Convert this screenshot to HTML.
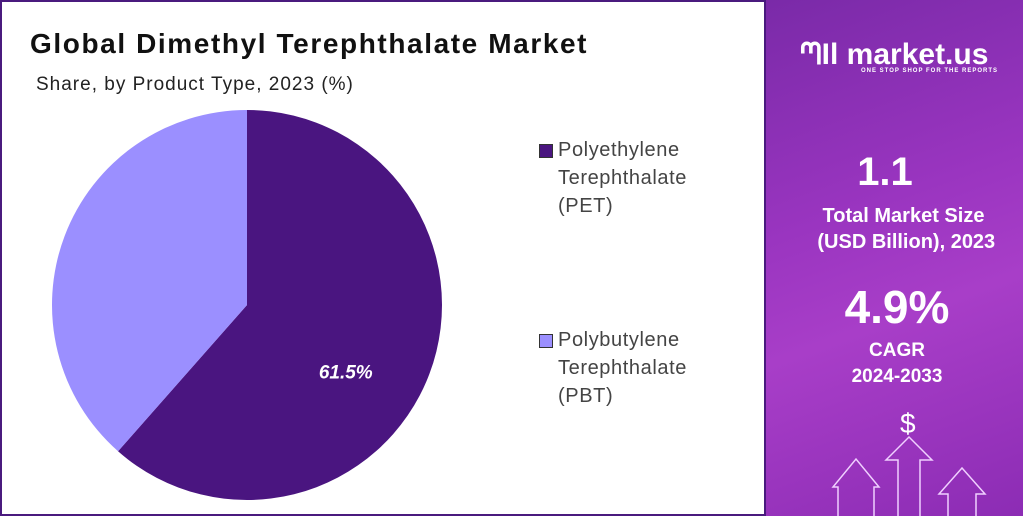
<!DOCTYPE html>
<html><head><meta charset="utf-8"><style>
body{margin:0;width:1023px;height:516px;overflow:hidden;font-family:"Liberation Sans",sans-serif;background:#fff;position:relative}
.left{position:absolute;left:0;top:0;width:762px;height:512px;border:2px solid #4a1a7e;background:#fff}
.right{position:absolute;left:766px;top:0;width:257px;height:516px;background:linear-gradient(160deg,#7a2aa8 0%,#9a35c0 40%,#a83ec8 60%,#8c2cb4 100%);color:#fff;text-align:center}
.title{position:absolute;left:28px;top:26px;font-size:28px;font-weight:bold;color:#111;letter-spacing:1.6px}
.sub{position:absolute;left:34px;top:72px;font-size:19px;color:#222;letter-spacing:1px}
.leg{position:absolute;font-size:20px;color:#444;line-height:28px;letter-spacing:0.6px}
.sw{position:absolute;width:12px;height:12px;border:1px solid #333}
</style></head><body>
<div class="left">
<div class="title">Global Dimethyl Terephthalate Market</div>
<div class="sub">Share, by Product Type, 2023 (%)</div>
</div>
<svg id="pie" width="765" height="516" style="position:absolute;left:0;top:0"></svg>
<div class="sw" style="left:539px;top:144px;background:#4a1580"></div>
<div class="leg" style="left:558px;top:136px">Polyethylene<br>Terephthalate<br>(PET)</div>
<div class="sw" style="left:539px;top:334px;background:#9b8fff"></div>
<div class="leg" style="left:558px;top:326px">Polybutylene<br>Terephthalate<br>(PBT)</div>
<div class="right">
<div style="position:absolute;left:34px;top:38px;font-size:30px;font-weight:bold">ᘉIl market.us</div>
<div style="position:absolute;left:95px;top:68px;font-size:6px;font-weight:bold;letter-spacing:1px">ONE STOP SHOP FOR THE REPORTS</div>
<div style="position:absolute;width:258px;left:-10px;top:150px;font-size:40px;font-weight:bold">1.1</div>
<div style="position:absolute;left:0;width:275px;top:203px;font-size:20px;font-weight:bold;line-height:26px">Total Market Size<br>&nbsp;(USD Billion), 2023</div>
<div style="position:absolute;left:2px;width:258px;top:280px;font-size:46px;font-weight:bold">4.9%</div>
<div style="position:absolute;left:2px;width:258px;top:338px;font-size:19px;font-weight:bold;line-height:26px">CAGR<br>2024-2033</div>
<div style="position:absolute;left:134px;top:408px;font-size:28px">$</div>
<svg width="258" height="516" style="position:absolute;left:0;top:0">
<g fill="none" stroke="#f0d0ff" stroke-width="1.5">
<path d="M72,516V487H67L90,459L113,487H108V516"/>
<path d="M132,516V460H120L143,437L166,460H154V516"/>
<path d="M182,516V494H173L196,468L219,494H210V516"/>
</g></svg>
</div>
<script>
const categories=["Polyethylene Terephthalate (PET)","Polybutylene Terephthalate (PBT)"];
const shares=[61.5,38.5];
const colors=["#4a1580","#9b8fff"];
const svg=document.getElementById('pie');
const cx=247,cy=305,r=195;
const total=shares.reduce((a,b)=>a+b,0);
let a0=0;
const pt=a=>[cx+r*Math.sin(a),cy-r*Math.cos(a)];
shares.forEach((v,i)=>{
 const a1=a0+v/total*2*Math.PI;
 const [x0,y0]=pt(a0),[x1,y1]=pt(a1);
 const p=document.createElementNS('http://www.w3.org/2000/svg','path');
 p.setAttribute('d',`M${cx},${cy}L${x0},${y0}A${r},${r} 0 ${a1-a0>Math.PI?1:0} 1 ${x1},${y1}Z`);
 p.setAttribute('fill',colors[i]);
 
 
 svg.appendChild(p);
 if(i===0){
  const t=document.createElementNS('http://www.w3.org/2000/svg','text');
  const am=(a0+a1)/2+0.23;
  t.setAttribute('x',cx+r*0.61*Math.sin(am));t.setAttribute('y',cy-r*0.61*Math.cos(am)+7);
  t.setAttribute('fill','#fff');t.setAttribute('font-size','19');t.setAttribute('font-weight','bold');
  t.setAttribute('font-style','italic');t.setAttribute('text-anchor','middle');
  t.setAttribute('font-family','Liberation Sans, sans-serif');
  t.textContent=v+'%';
  
  
  svg.appendChild(t);
 }
 a0=a1;
});
</script>
</body></html>
